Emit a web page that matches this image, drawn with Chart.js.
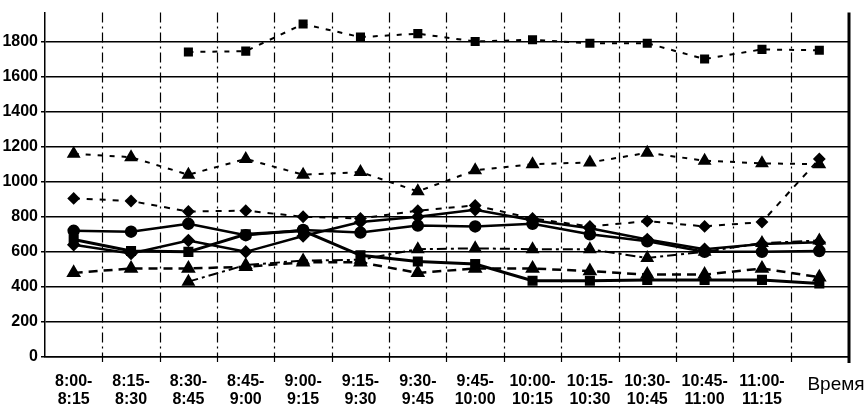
<!DOCTYPE html>
<html>
<head>
<meta charset="utf-8">
<script src="https://cdn.jsdelivr.net/npm/chart.js"></script>
<style>
  html, body { margin: 0; padding: 0; background: #fff; }
  #wrap { width: 865px; height: 409px; }
</style>
</head>
<body>
<div id="wrap"><canvas id="lineChart"></canvas></div>
<script>
// data
const periods = [['8:00-','8:15'], ['8:15-','8:30'], ['8:30-','8:45'], ['8:45-','9:00'], ['9:00-','9:15'],
  ['9:15-','9:30'], ['9:30-','9:45'], ['9:45-','10:00'], ['10:00-','10:15'], ['10:15-','10:30'],
  ['10:30-','10:45'], ['10:45-','11:00'], ['11:00-','11:15'], ''];
const yTicks = [0, 200, 400, 600, 800, 1000, 1200, 1400, 1600, 1800];
const axisTitle = 'Время';

const squaresTop = [null, null, 1740, 1745, 1900, 1825, 1845, 1800, 1810, 1790, 1790, 1700, 1755, 1750];
const trianglesHigh = [1160, 1140, 1040, 1130, 1040, 1055, 945, 1065, 1100, 1110, 1165, 1120, 1105, 1100];
const diamondsDashed = [905, 890, 830, 835, 800, 790, 835, 865, 790, 745, 775, 745, 770, 1130];
const circlesSolid = [720, 715, 760, 695, 725, 710, 750, 745, 760, 700, 660, 600, 600, 605];
const diamondsSolid = [640, 590, 665, 600, 690, 770, 800, 840, 780, 735, 670, 615, 645, 655];
const squaresSolid = [670, 605, 600, 700, 720, 580, 545, 530, 435, 435, 440, 440, 440, 420];
const trianglesLow = [480, 505, 505, 515, 540, 540, 480, 505, 505, 490, 470, 470, 505, 455];
const trianglesDashDot = [null, null, 430, 525, 550, 555, 615, 620, 615, 615, 565, 600, 650, 665];

function series(data, shape, dash, width) {
  return {
    data: data,
    borderColor: '#000',
    backgroundColor: '#000',
    borderWidth: width,
    borderDash: dash,
    pointStyle: shape,
    pointRadius: shape === 'triangle' ? 6 : 5,
    pointBackgroundColor: '#000',
    pointBorderColor: '#000',
    tension: 0,
    spanGaps: false
  };
}

// dashed category dividers, thick right border and the "Время" caption
const framePlugin = {
  id: 'frame',
  beforeDatasetsDraw(chart) {
    const ctx = chart.ctx;
    const area = chart.chartArea;
    const x = chart.scales.x;
    const step = x.getPixelForValue(1) - x.getPixelForValue(0);
    ctx.save();
    ctx.strokeStyle = '#000';
    ctx.lineWidth = 1.2;
    ctx.setLineDash([10, 4, 2, 4]);
    for (let i = 1; i < periods.length; i++) {
      const px = Math.round(x.getPixelForValue(i) - step / 2) + 0.5;
      ctx.beginPath();
      ctx.moveTo(px, area.top);
      ctx.lineTo(px, area.bottom + 5);
      ctx.stroke();
    }
    ctx.restore();
  },
  afterDraw(chart) {
    const ctx = chart.ctx;
    const area = chart.chartArea;
    ctx.save();
    ctx.strokeStyle = '#000';
    ctx.lineWidth = 3;
    ctx.beginPath();
    ctx.moveTo(area.right + 1, area.top);
    ctx.lineTo(area.right + 1, area.bottom + 6);
    ctx.stroke();
    ctx.fillStyle = '#000';
    ctx.font = '19px "Liberation Sans", Arial, sans-serif';
    ctx.textAlign = 'center';
    ctx.textBaseline = 'middle';
    ctx.fillText(axisTitle, 836, 385);
    ctx.restore();
  }
};

const tickFont = { family: '"Liberation Sans Narrow", "Liberation Sans", Arial, sans-serif', size: 16, weight: 'bold', lineHeight: 1.1 };

new Chart(document.getElementById('lineChart'), {
  type: 'line',
  data: {
    labels: periods,
    datasets: [
      series(squaresTop, 'rect', [5, 7], 2),
      series(trianglesHigh, 'triangle', [5, 7], 2),
      series(diamondsDashed, 'rectRot', [6, 7], 2),
      series(circlesSolid, 'circle', [], 2.5),
      series(diamondsSolid, 'rectRot', [], 2.5),
      series(squaresSolid, 'rect', [], 3),
      series(trianglesLow, 'triangle', [9, 6], 2.5),
      series(trianglesDashDot, 'triangle', [10, 4, 3, 4], 2)
    ]
  },
  plugins: [framePlugin],
  options: {
    responsive: true,
    maintainAspectRatio: false,
    animation: false,
    layout: { padding: { left: 0, right: 17, top: 0, bottom: 0 } },
    plugins: {
      legend: { display: false },
      tooltip: { enabled: false }
    },
    scales: {
      x: {
        offset: true,
        grid: { display: false },
        border: { display: true, color: '#000', width: 1.5 },
        ticks: { color: '#000', font: tickFont, maxRotation: 0, autoSkip: false, padding: 8 },
        afterFit(scale) { scale.height = 52; }
      },
      y: {
        min: 0,
        max: 1965,
        afterBuildTicks(scale) { scale.ticks = yTicks.map(v => ({ value: v })); },
        grid: { color: '#000', lineWidth: 1.5, drawTicks: true, tickLength: 4 },
        border: { display: true, color: '#000', width: 1.5 },
        ticks: {
          color: '#000',
          padding: 3,
          callback: v => String(v),
          font: { family: '"Liberation Sans", Arial, sans-serif', size: 16, weight: 'bold' }
        },
        afterFit(scale) { scale.width = 45; }
      }
    }
  }
});
</script>
</body>
</html>
